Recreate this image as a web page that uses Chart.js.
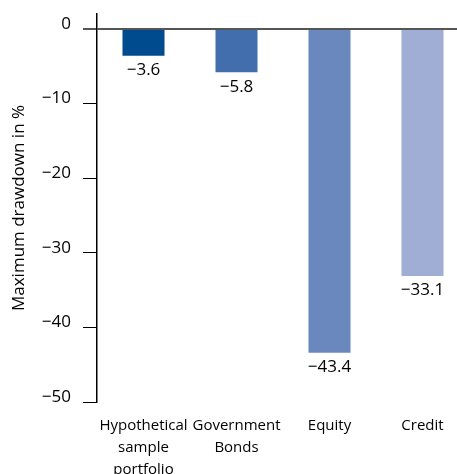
<!DOCTYPE html>
<html>
<head>
<meta charset="utf-8">
<script src="https://cdn.jsdelivr.net/npm/chart.js@4/dist/chart.umd.min.js"></script>
<style>
  html, body { margin: 0; padding: 0; background: #fff; overflow: hidden; }
  #wrap { width: 469px; height: 474px; }
</style>
</head>
<body>
<div id="wrap"><canvas id="myChart"></canvas></div>
<script>
// data
const categories = [["Hypothetical", "sample", "portfolio"], ["Government", "Bonds"], "Equity", "Credit"];
const drawdown = [-3.6, -5.8, -43.4, -33.1];
const barColors = ["#004b8d", "#436eae", "#6b88be", "#a0aed6"];
const yTicks = [0, -10, -20, -30, -40, -50];

const FONT = "'Open Sans'";
const dash = v => String(v).replace("-", "\u2212");

// value labels under each bar end
const barLabels = {
  id: "barLabels",
  afterDatasetsDraw(chart) {
    const c = chart.ctx;
    const meta = chart.getDatasetMeta(0);
    c.save();
    c.font = "17px " + FONT;
    c.fillStyle = "#000";
    c.textAlign = "center";
    c.textBaseline = "top";
    meta.data.forEach((bar, i) => {
      c.fillText(dash(drawdown[i].toFixed(1)), bar.x, bar.y + 6);
    });
    c.restore();
  }
};

const ctx = document.getElementById("myChart");
new Chart(ctx, {
  type: "bar",
  data: {
    labels: categories,
    datasets: [{
      data: drawdown,
      backgroundColor: barColors,
      categoryPercentage: 1,
      barPercentage: 0.452
    }]
  },
  options: {
    responsive: true,
    maintainAspectRatio: false,
    animation: false,
    layout: { padding: { top: 14 } },
    plugins: { legend: { display: false }, tooltip: { enabled: false } },
    scales: {
      x: {
        grid: { display: false },
        border: { display: false },
        ticks: {
          color: "#000",
          font: { family: FONT, size: 15, lineHeight: 1.45 },
          padding: 5,
          maxRotation: 0,
          autoSkip: false
        },
        afterFit(scale) { scale.height = 72; }
      },
      y: {
        min: -50,
        max: 2,
        afterBuildTicks(scale) {
          scale.ticks = yTicks.map(v => ({ value: v }));
        },
        afterFit(scale) {
          scale.width = 97;
          scale.paddingTop = 0;
          scale.paddingBottom = 0;
        },
        border: { display: true, color: "#000", width: 1.5 },
        grid: {
          drawOnChartArea: true,
          color: c => (c.tick && c.tick.value === 0 ? "#555" : "transparent"),
          lineWidth: c => (c.tick && c.tick.value === 0 ? 2 : 1),
          tickColor: c => (c.tick && c.tick.value === 0 ? "#555" : "#000"),
          tickLength: 14
        },
        ticks: {
          color: "#000",
          font: { family: FONT, size: 17 },
          padding: 12,
          labelOffset: -5,
          callback: v => dash(v)
        },
        title: {
          display: true,
          text: "Maximum drawdown in %",
          color: "#000",
          font: { family: FONT, size: 17 },
          padding: { top: 9, bottom: 0 }
        }
      }
    }
  },
  plugins: [barLabels]
});
</script>
</body>
</html>
